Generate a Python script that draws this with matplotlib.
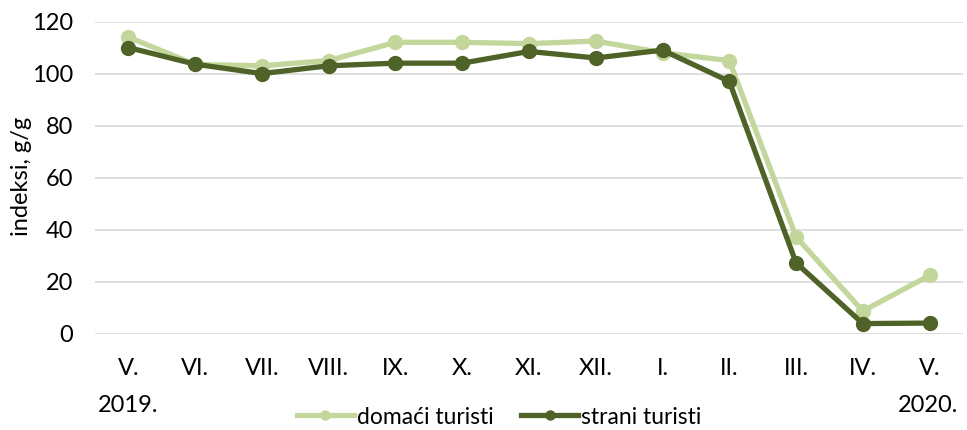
import matplotlib
matplotlib.use("Agg")
import matplotlib.pyplot as plt

months = ["V.", "VI.", "VII.", "VIII.", "IX.", "X.", "XI.", "XII.", "I.", "II.", "III.", "IV.", "V."]
domaci = [114, 103.5, 103, 105, 112, 112, 111.5, 112.5, 108, 105, 37.3, 8.8, 22.5]
strani = [110, 103.6, 100, 103, 104, 104, 108.5, 106, 109, 97, 27.3, 4, 4.2]
yticks = [0, 20, 40, 60, 80, 100, 120]
years = ["2019.", "2020."]

plt.rcParams['font.family'] = ['Lato', 'DejaVu Sans']
FS = 17

fig = plt.figure(figsize=(9.67, 4.3), dpi=100)
ax = fig.add_axes([95/967, 1-334/430, (963-95)/967, (334-21.5)/430])

x = list(range(len(months)))
ax.plot(x, domaci, color="#C3D69B", lw=3.8, marker="o", ms=10, label="domaći turisti", zorder=3)
ax.plot(x, strani, color="#4F6228", lw=3.8, marker="o", ms=10, label="strani turisti", zorder=4)

ax.set_xlim(-0.5, len(months) - 0.5)
ax.set_ylim(0, 120)
ax.set_yticks(yticks)
ax.set_xticks(x)
ax.set_xticklabels(months)
ax.tick_params(axis="both", length=0, labelsize=FS, colors="#000000")
ax.tick_params(axis="x", pad=17)
ax.tick_params(axis="y", pad=16)
ax.grid(axis="y", color="#D9D9D9", lw=1.2)
ax.set_axisbelow(True)
for s in ax.spines.values():
    s.set_visible(False)

fig.text(22/967, 1-176/430, "indeksi, g/g", fontsize=FS, rotation=90, ha="center", va="center")

fig.text(128/967, 1-405/430, years[0], fontsize=FS, ha="center", va="center")
fig.text(928/967, 1-405/430, years[1], fontsize=FS, ha="center", va="center")

fig.legend(loc="center", bbox_to_anchor=(499/967, 1-417/430), ncol=2, frameon=False,
           fontsize=16.5, handlelength=2.5, handletextpad=0.13, columnspacing=1.2,
           borderaxespad=0, borderpad=0, markerscale=0.65)

fig.savefig("out.png", dpi=100)
